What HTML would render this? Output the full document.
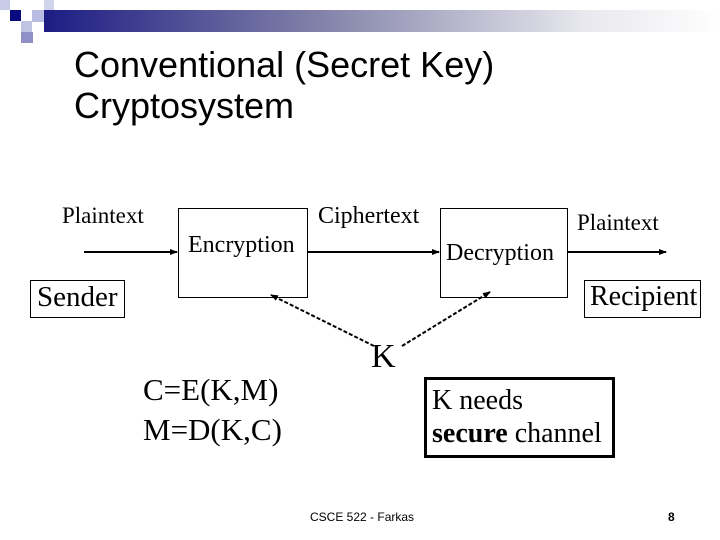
<!DOCTYPE html>
<html><head><style>
body{margin:0;width:720px;height:540px;background:#fff;position:relative;overflow:hidden;font-family:"Liberation Serif",serif}
.a{position:absolute;white-space:nowrap;line-height:1}
.s{font-family:"Liberation Sans",sans-serif}
</style></head><body>
<div class="a" style="left:0;top:0;width:10px;height:10px;background:#c8cce6"></div>
<div class="a" style="left:10px;top:10px;width:11px;height:11px;background:#0a0a80"></div>
<div class="a" style="left:32px;top:10px;width:12px;height:12px;background:#b8bce0"></div>
<div class="a" style="left:44px;top:0;width:10px;height:10px;background:#d0d4ea"></div>
<div class="a" style="left:21px;top:21px;width:11px;height:11px;background:#c0c4e4"></div>
<div class="a" style="left:21px;top:32px;width:12px;height:11px;background:#9090c8"></div>
<div class="a" style="left:44px;top:10px;width:676px;height:22px;background:linear-gradient(to right,#1c1c84,#8080a8 40%,#e8e8ee 80%,#fff)"></div>
<div class="a s" style="left:74px;top:44px;font-size:36px;line-height:41px">Conventional (Secret Key)<br>Cryptosystem</div>

<svg class="a" style="left:0;top:0" width="720" height="540">
<defs>
<marker id="ar" markerWidth="8" markerHeight="8" refX="7" refY="4" orient="auto" markerUnits="userSpaceOnUse"><path d="M0,1 L8,4 L0,7z" fill="#000"/></marker>
</defs>
<g fill="none" stroke="#000" stroke-width="1">
<rect x="178.5" y="208.5" width="129" height="89"/>
<rect x="440.5" y="208.5" width="127" height="89"/>
<rect x="30.5" y="280.5" width="94" height="37"/>
<rect x="584.5" y="280.5" width="116" height="37"/>
</g>
<g stroke="#000" stroke-width="2">
<line x1="84" y1="252" x2="177" y2="252" marker-end="url(#ar)"/>
<line x1="308" y1="252" x2="439" y2="252" marker-end="url(#ar)"/>
<line x1="568" y1="252" x2="666" y2="252" marker-end="url(#ar)"/>
<line x1="374" y1="346" x2="271" y2="295" stroke-dasharray="4,2" marker-end="url(#ar)"/>
<line x1="402" y1="346" x2="490" y2="292" stroke-dasharray="4,2" marker-end="url(#ar)"/>
</g>
<rect x="425.5" y="378.5" width="188" height="78" fill="none" stroke="#000" stroke-width="3"/>
</svg>

<div class="a" style="left:62px;top:204px;font-size:23px">Plaintext</div>
<div class="a" style="left:188px;top:233px;font-size:24px">Encryption</div>
<div class="a" style="left:318px;top:204px;font-size:24px">Ciphertext</div>
<div class="a" style="left:446px;top:241px;font-size:24px">Decryption</div>
<div class="a" style="left:577px;top:211px;font-size:23px">Plaintext</div>
<div class="a" style="left:37px;top:283px;font-size:29px">Sender</div>
<div class="a" style="left:590px;top:283px;font-size:28px">Recipient</div>
<div class="a" style="left:371px;top:340px;font-size:34px">K</div>
<div class="a" style="left:143px;top:370px;font-size:31px;line-height:40px">C=E(K,M)<br>M=D(K,C)</div>
<div class="a" style="left:432px;top:384px;font-size:28px;line-height:33px">K needs<br><b>secure</b> channel</div>
<div class="a s" style="left:310px;top:511px;font-size:12px">CSCE 522 - Farkas</div>
<div class="a s" style="left:668px;top:511px;font-size:12px;font-weight:bold">8</div>
</body></html>
